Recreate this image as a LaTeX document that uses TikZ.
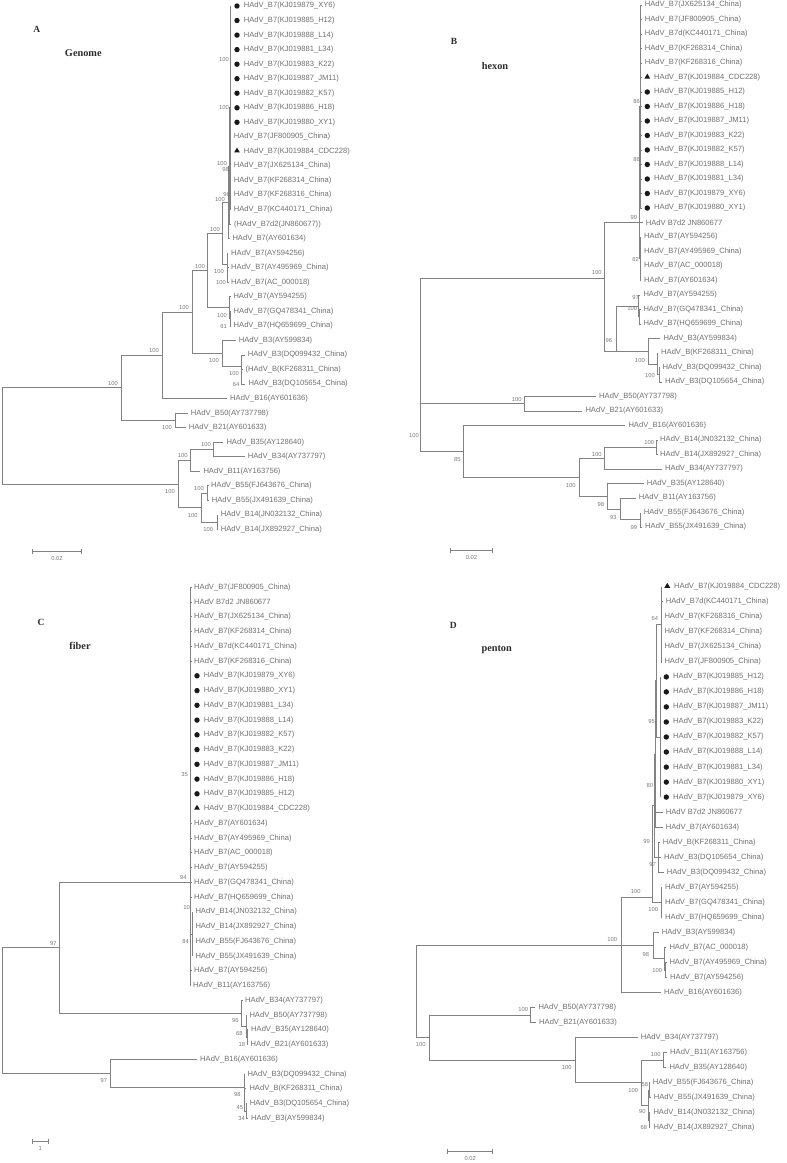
\documentclass[tikz,border=0pt]{standalone}
\usepackage{fontspec}
\setmainfont{Liberation Serif}
\newfontfamily\lsans{Liberation Sans}
\usetikzlibrary{shapes.geometric}
\definecolor{brc}{RGB}{130,130,130}
\definecolor{txc}{RGB}{112,112,112}
\definecolor{bsc}{RGB}{120,120,120}
\definecolor{mkc}{RGB}{25,25,25}
\definecolor{ttc}{RGB}{45,45,45}
\newcommand\hadv{HAdV\_}
\tikzset{
  br/.style={draw=brc, line width=0.8pt},
  lab/.style={anchor=west, inner sep=0pt, text=txc, font=\lsans\fontsize{7.6}{8}\selectfont},
  bs/.style={anchor=east, inner sep=0pt, text=bsc, font=\lsans\fontsize{5.8}{6}\selectfont},
  sc/.style={inner sep=0pt, text=bsc, font=\lsans\fontsize{5.8}{6}\selectfont},
  dot/.style={circle, fill=mkc, inner sep=0pt, minimum size=5.4pt},
  tri/.style={regular polygon, regular polygon sides=3, fill=mkc, inner sep=0pt, minimum size=6.6pt},
  ttl/.style={inner sep=0pt, text=ttc, font=\bfseries\fontsize{9.5}{10}\selectfont},
  ttl2/.style={inner sep=0pt, text=ttc, font=\bfseries\fontsize{10.3}{11}\selectfont},
}
\newcommand\lf[4]{\coordinate (#1) at (#2,#3); \node[lab] (#1t) at ([xshift=3pt]#1) {#4};}
\newcommand\lfc[4]{\coordinate (#1) at (#2,#3); \node[dot] (#1m) at ([xshift=6.3pt]#1) {}; \node[lab] (#1t) at ([xshift=13pt]#1) {#4};}
\newcommand\lft[4]{\coordinate (#1) at (#2,#3); \node[tri] (#1m) at ([xshift=6.3pt,yshift=0.6pt]#1) {}; \node[lab] (#1t) at ([xshift=13pt]#1) {#4};}
\newcommand\nd[3]{\coordinate (#1) at (#2,#3);}
\newcommand\eds[2]{\foreach \chd in {#2}{\draw[br] (#1) |- (\chd);}}
\newcommand\bv[4]{\node[bs] (#1) at (#2,#3) {#4};}
\newcommand\sbar[6]{\coordinate (#1l) at (#2,#4); \coordinate (#1r) at (#3,#4);
  \draw[br] (#1l) -- (#1r); \draw[br] ([yshift=-2.5pt]#1l) -- ([yshift=2.5pt]#1l); \draw[br] ([yshift=-2.5pt]#1r) -- ([yshift=2.5pt]#1r);
  \node[sc] (#1t) at (#5,#4+7) {#6};}
\begin{document}
\begin{tikzpicture}[x=1pt,y=-1pt]
\path[use as bounding box] (0,0) rectangle (787,1163);
% ================= PANEL A =================
\node[ttl] (pA) at (36.7,29.3) {A};
\node[ttl2] (tA) at (83.3,53.3) {Genome};
\lfc{a0}{230.7}{6.0}{\hadv B7(KJ019879\_XY6)}
\lfc{a1}{230.7}{20.5}{\hadv B7(KJ019885\_H12)}
\lfc{a2}{230.7}{35.1}{\hadv B7(KJ019888\_L14)}
\lfc{a3}{230.7}{49.6}{\hadv B7(KJ019881\_L34)}
\lfc{a4}{230.7}{64.2}{\hadv B7(KJ019883\_K22)}
\lfc{a5}{230.7}{78.7}{\hadv B7(KJ019887\_JM11)}
\lfc{a6}{230.7}{93.2}{\hadv B7(KJ019882\_K57)}
\lfc{a7}{230.7}{107.8}{\hadv B7(KJ019886\_H18)}
\lfc{a8}{230.7}{122.3}{\hadv B7(KJ019880\_XY1)}
\lf{a9}{230.7}{136.9}{\hadv B7(JF800905\_China)}
\lft{a10}{230.7}{151.4}{\hadv B7(KJ019884\_CDC228)}
\lf{a11}{230.7}{165.9}{\hadv B7(JX625134\_China)}
\lf{a12}{230.7}{180.5}{\hadv B7(KF268314\_China)}
\lf{a13}{230.7}{195.0}{\hadv B7(KF268316\_China)}
\lf{a14}{230.7}{209.6}{\hadv B7(KC440171\_China)}
\lf{a15}{231}{224.1}{(\hadv B7d2(JN860677))}
\lf{a16}{229.3}{238.6}{\hadv B7(AY601634)}
\lf{a17}{228}{253.2}{\hadv B7(AY594256)}
\lf{a18}{228}{267.7}{\hadv B7(AY495969\_China)}
\lf{a19}{228}{282.3}{\hadv B7(AC\_000018)}
\lf{a20}{230.3}{296.8}{\hadv B7(AY594255)}
\lf{a21}{230.5}{311.3}{\hadv B7(GQ478341\_China)}
\lf{a22}{230.5}{325.9}{\hadv B7(HQ659699\_China)}
\lf{a23}{235.7}{340.4}{\hadv B3(AY599834)}
\lf{a24}{244.7}{355.0}{\hadv B3(DQ099432\_China)}
\lf{a25}{242.3}{369.5}{(\hadv B(KF268311\_China)}
\lf{a26}{245.3}{384.0}{\hadv B3(DQ105654\_China)}
\lf{a27}{227}{398.6}{\hadv B16(AY601636)}
\lf{a28}{187.7}{413.1}{\hadv B50(AY737798)}
\lf{a29}{185.7}{427.7}{\hadv B21(AY601633)}
\lf{a30}{223.3}{442.2}{\hadv B35(AY128640)}
\lf{a31}{244.7}{456.7}{\hadv B34(AY737797)}
\lf{a32}{200.3}{471.3}{\hadv B11(AY163756)}
\lf{a33}{208}{485.8}{\hadv B55(FJ643676\_China)}
\lf{a34}{208.7}{500.4}{\hadv B55(JX491639\_China)}
\lf{a35}{217.7}{514.9}{\hadv B14(JN032132\_China)}
\lf{a36}{217.7}{529.4}{\hadv B14(JX892927\_China)}
\nd{aC2}{230.7}{107.8} \nd{aC1}{229.7}{166.0} \nd{aBC}{228.7}{202.3}
\nd{aN11b}{227.8}{275.0} \nd{aN11}{227.0}{264.1} \nd{aN9}{222.3}{233.2}
\nd{aN10b}{230.3}{318.6} \nd{aN10}{229.5}{307.7} \nd{aN6}{207.7}{270.5}
\nd{aN8b}{241.8}{376.8} \nd{aN8}{241}{365.9} \nd{aN7}{222.3}{353.2}
\nd{aN5}{192.7}{311.9} \nd{aN3}{162.3}{355.2} \nd{aN4}{175}{420.4}
\nd{aN1}{121.7}{387.8} \nd{aP}{213.7}{449.5} \nd{aQ}{190.3}{460.4}
\nd{aR}{207.7}{493.1} \nd{aS}{217.3}{522.2} \nd{aT}{201}{507.6}
\nd{aN2}{178}{484} \nd{aR0}{2.7}{435.9}
\eds{aC2}{a0,a1,a2,a3,a4,a5,a6,a7,a8,a9,a10,a11,a12,a13,a14}
\eds{aC1}{aC2,a15} \eds{aBC}{aC1,a16}
\eds{aN11b}{a18,a19} \eds{aN11}{a17,aN11b} \eds{aN9}{aBC,aN11}
\eds{aN10b}{a21,a22} \eds{aN10}{a20,aN10b} \eds{aN6}{aN9,aN10}
\eds{aN8b}{a25,a26} \eds{aN8}{a24,aN8b} \eds{aN7}{a23,aN8}
\eds{aN5}{aN6,aN7} \eds{aN3}{aN5,a27} \eds{aN4}{a28,a29} \eds{aN1}{aN3,aN4}
\eds{aP}{a30,a31} \eds{aQ}{aP,a32} \eds{aR}{a33,a34} \eds{aS}{a35,a36}
\eds{aT}{aR,aS} \eds{aN2}{aQ,aT} \eds{aR0}{aN1,aN2}
\bv{ba1}{118}{383.3}{100} \bv{ba2}{175}{491}{100} \bv{ba3}{159}{350.7}{100}
\bv{ba4}{172}{427.3}{100} \bv{ba5}{189}{307.3}{100} \bv{ba6}{205}{266}{100}
\bv{ba7}{220}{229.3}{100} \bv{ba8}{219}{360.7}{100} \bv{ba9}{239}{373.3}{100}
\bv{ba10}{239.5}{384.3}{64} \bv{ba11}{227}{315.3}{100} \bv{ba12}{227}{326.3}{61}
\bv{ba13}{224}{271}{100} \bv{ba14}{226}{282}{100} \bv{ba15}{225}{199}{100}
\bv{ba16}{230}{194.3}{96} \bv{ba17}{229}{59.3}{100} \bv{ba18}{229}{107.7}{100}
\bv{ba19}{227}{163.3}{100} \bv{ba20}{229}{169.3}{98}
\bv{ba21}{211}{444.3}{100} \bv{ba22}{187.7}{455.7}{100} \bv{ba23}{204}{488.3}{100}
\bv{ba24}{197.7}{515}{100} \bv{ba25}{213.3}{529.3}{100}
\sbar{sa}{32.7}{81}{551.7}{57}{0.02}
% ================= PANEL B =================
\node[ttl] (pB) at (454,41.7) {B};
\node[ttl2] (tB) at (495,65.7) {hexon};
\lf{b0}{641.7}{5.0}{\hadv B7(JX625134\_China)}
\lf{b1}{641.7}{19.5}{\hadv B7(JF800905\_China)}
\lf{b2}{641.7}{34.0}{\hadv B7d(KC440171\_China)}
\lf{b3}{641.7}{48.5}{\hadv B7(KF268314\_China)}
\lf{b4}{641.7}{63.0}{\hadv B7(KF268316\_China)}
\lft{b5}{641}{77.5}{\hadv B7(KJ019884\_CDC228)}
\lfc{b6}{641}{92.0}{\hadv B7(KJ019885\_H12)}
\lfc{b7}{641}{106.5}{\hadv B7(KJ019886\_H18)}
\lfc{b8}{641}{121.0}{\hadv B7(KJ019887\_JM11)}
\lfc{b9}{641}{135.5}{\hadv B7(KJ019883\_K22)}
\lfc{b10}{641}{150.0}{\hadv B7(KJ019882\_K57)}
\lfc{b11}{641}{164.5}{\hadv B7(KJ019888\_L14)}
\lfc{b12}{641}{179.0}{\hadv B7(KJ019881\_L34)}
\lfc{b13}{641}{193.5}{\hadv B7(KJ019879\_XY6)}
\lfc{b14}{641}{208.0}{\hadv B7(KJ019880\_XY1)}
\lf{b15}{642.7}{222.5}{HAdV B7d2 JN860677}
\lf{b16}{641}{237.0}{\hadv B7(AY594256)}
\lf{b17}{641}{251.5}{\hadv B7(AY495969\_China)}
\lf{b18}{641}{266.0}{\hadv B7(AC\_000018)}
\lf{b19}{641}{280.5}{\hadv B7(AY601634)}
\lf{b20}{640.3}{295.0}{\hadv B7(AY594255)}
\lf{b21}{640.3}{309.5}{\hadv B7(GQ478341\_China)}
\lf{b22}{640.3}{324.0}{\hadv B7(HQ659699\_China)}
\lf{b23}{660.3}{338.5}{\hadv B3(AY599834)}
\lf{b24}{658}{353.0}{\hadv B(KF268311\_China)}
\lf{b25}{659.3}{367.5}{\hadv B3(DQ099432\_China)}
\lf{b26}{662}{382.0}{\hadv B3(DQ105654\_China)}
\lf{b27}{596}{396.5}{\hadv B50(AY737798)}
\lf{b28}{582.3}{411.0}{\hadv B21(AY601633)}
\lf{b29}{625.3}{425.5}{\hadv B16(AY601636)}
\lf{b30}{657}{440.0}{\hadv B14(JN032132\_China)}
\lf{b31}{657}{454.5}{\hadv B14(JX892927\_China)}
\lf{b32}{662}{469.0}{\hadv B34(AY737797)}
\lf{b33}{643.7}{483.5}{\hadv B35(AY128640)}
\lf{b34}{635.7}{498.0}{\hadv B11(AY163756)}
\lf{b35}{640.7}{512.5}{\hadv B55(FJ643676\_China)}
\lf{b36}{642}{527.0}{\hadv B55(JX491639\_China)}
\nd{bT}{640.7}{106.5} \nd{bU}{640.2}{258.8} \nd{bB1}{639.5}{222.5}
\nd{bA2}{639.7}{316.8} \nd{bA}{638.7}{305.9} \nd{bCj}{659}{374.8}
\nd{bCi}{657.3}{363.9} \nd{bC}{648.3}{351.2} \nd{bB2}{616}{351.2}
\nd{bM}{604}{278.3} \nd{b50n}{524.3}{403.8} \nd{bN14}{656.7}{447.3}
\nd{bN100b}{604}{458.1} \nd{bN99}{640.7}{519.8} \nd{bN93}{620.7}{508.9}
\nd{bN98}{607.7}{496.2} \nd{bN100a}{579}{477.2} \nd{bN85}{463.3}{451.3}
\nd{bR}{420}{365}
\eds{bT}{b0,b1,b2,b3,b4,b5,b6,b7,b8,b9,b10,b11,b12,b13,b14}
\eds{bU}{b16,b17,b18,b19} \eds{bB1}{bT,b15,bU}
\eds{bA2}{b21,b22} \eds{bA}{b20,bA2}
\eds{bCj}{b25,b26} \eds{bCi}{b24,bCj} \eds{bC}{b23,bCi}
\eds{bB2}{bA,bC} \eds{bM}{bB1,bB2} \eds{b50n}{b27,b28}
\eds{bN14}{b30,b31} \eds{bN100b}{bN14,b32} \eds{bN99}{b35,b36}
\eds{bN93}{b34,bN99} \eds{bN98}{b33,bN93} \eds{bN100a}{bN100b,bN98}
\eds{bN85}{b29,bN100a} \eds{bR}{bM,b50n,bN85}
\bv{bb1}{640}{101}{86} \bv{bb2}{640}{159.3}{86} \bv{bb3}{637.3}{217.7}{99}
\bv{bb4}{639}{259}{62} \bv{bb5}{601.7}{272.7}{100} \bv{bb6}{612.3}{340.7}{96}
\bv{bb7}{639}{297.3}{97} \bv{bb8}{637.3}{308.3}{100} \bv{bb9}{645}{360.7}{100}
\bv{bb10}{655}{375}{100} \bv{bb11}{419}{435}{100} \bv{bb12}{521.7}{399.3}{100}
\bv{bb13}{460.7}{459.3}{85} \bv{bb14}{575.7}{485}{100} \bv{bb15}{601.7}{454}{100}
\bv{bb16}{604.3}{504}{98} \bv{bb17}{654.3}{442.7}{100} \bv{bb18}{616.7}{517.3}{93}
\bv{bb19}{637.3}{527.3}{99}
\sbar{sb}{450}{492.7}{550.7}{471.4}{0.02}
% ================= PANEL C =================
\node[ttl] (pC) at (41,622.3) {C};
\node[ttl2] (tC) at (80,645.7) {fiber};
\lf{c0}{191}{587.3}{\hadv B7(JF800905\_China)}
\lf{c1}{191}{602.1}{HAdV B7d2 JN860677}
\lf{c2}{191}{616.8}{\hadv B7(JX625134\_China)}
\lf{c3}{191}{631.6}{\hadv B7(KF268314\_China)}
\lf{c4}{191}{646.3}{\hadv B7d(KC440171\_China)}
\lf{c5}{191}{661.1}{\hadv B7(KF268316\_China)}
\lfc{c6}{190.7}{675.8}{\hadv B7(KJ019879\_XY6)}
\lfc{c7}{190.7}{690.6}{\hadv B7(KJ019880\_XY1)}
\lfc{c8}{190.7}{705.3}{\hadv B7(KJ019881\_L34)}
\lfc{c9}{190.7}{720.1}{\hadv B7(KJ019888\_L14)}
\lfc{c10}{190.7}{734.8}{\hadv B7(KJ019882\_K57)}
\lfc{c11}{190.7}{749.6}{\hadv B7(KJ019883\_K22)}
\lfc{c12}{190.7}{764.3}{\hadv B7(KJ019887\_JM11)}
\lfc{c13}{190.7}{779.1}{\hadv B7(KJ019886\_H18)}
\lfc{c14}{190.7}{793.8}{\hadv B7(KJ019885\_H12)}
\lft{c15}{190.7}{808.6}{\hadv B7(KJ019884\_CDC228)}
\lf{c16}{191}{823.3}{\hadv B7(AY601634)}
\lf{c17}{191}{838.1}{\hadv B7(AY495969\_China)}
\lf{c18}{191}{852.8}{\hadv B7(AC\_000018)}
\lf{c19}{191}{867.6}{\hadv B7(AY594255)}
\lf{c20}{191}{882.3}{\hadv B7(GQ478341\_China)}
\lf{c21}{191}{897.1}{\hadv B7(HQ659699\_China)}
\lf{c22}{192.3}{911.8}{\hadv B14(JN032132\_China)}
\lf{c23}{192.3}{926.6}{\hadv B14(JX892927\_China)}
\lf{c24}{192.3}{941.3}{\hadv B55(FJ643676\_China)}
\lf{c25}{192.3}{956.1}{\hadv B55(JX491639\_China)}
\lf{c26}{191}{970.8}{\hadv B7(AY594256)}
\lf{c27}{190}{985.6}{\hadv B11(AY163756)}
\lf{c28}{242}{1000.3}{\hadv B34(AY737797)}
\lf{c29}{246.3}{1015.1}{\hadv B50(AY737798)}
\lf{c30}{248}{1029.8}{\hadv B35(AY128640)}
\lf{c31}{247.5}{1044.6}{\hadv B21(AY601633)}
\lf{c32}{197}{1059.3}{\hadv B16(AY601636)}
\lf{c33}{244.3}{1074.1}{\hadv B3(DQ099432\_China)}
\lf{c34}{246.3}{1088.8}{\hadv B(KF268311\_China)}
\lf{c35}{246.7}{1103.6}{\hadv B3(DQ105654\_China)}
\lf{c36}{248}{1118.3}{\hadv B3(AY599834)}
\nd{cQ}{192.3}{934} \nd{cT}{190.7}{779} \nd{c94}{190}{882.3}
\nd{c18n}{247.3}{1037.2} \nd{c68}{246}{1026.2} \nd{c96}{241.7}{1013.3}
\nd{c97}{59.3}{947.8} \nd{c34n}{246}{1111} \nd{c45}{244.8}{1099.9}
\nd{c98}{244}{1087} \nd{c97b}{110}{1073.2} \nd{cR}{2.7}{1010.5}
\eds{cQ}{c22,c23,c24,c25}
\eds{cT}{c0,c1,c2,c3,c4,c5,c6,c7,c8,c9,c10,c11,c12,c13,c14,c15,c16,c17,c18,c19,c20,c21,cQ,c26}
\eds{c94}{cT,c27} \eds{c18n}{c30,c31} \eds{c68}{c29,c18n} \eds{c96}{c28,c68}
\eds{c97}{c94,c96} \eds{c34n}{c35,c36} \eds{c45}{c34,c34n} \eds{c98}{c33,c45}
\eds{c97b}{c32,c98} \eds{cR}{c97,c97b}
\bv{bc1}{188}{774}{35} \bv{bc2}{186.7}{877.3}{94} \bv{bc3}{190}{907.7}{10}
\bv{bc4}{189}{941}{84} \bv{bc5}{56.7}{943.3}{97} \bv{bc6}{238.7}{1020.7}{96}
\bv{bc7}{242.7}{1033.7}{68} \bv{bc8}{245.3}{1044.3}{18} \bv{bc9}{107.3}{1080.7}{97}
\bv{bc10}{240.7}{1094}{98} \bv{bc11}{243.3}{1107.3}{45} \bv{bc12}{245}{1118.3}{34}
\sbar{scb}{32.3}{48.3}{1141.7}{40.3}{1}
% ================= PANEL D =================
\node[ttl] (pD) at (453.3,625.7) {D};
\node[ttl2] (tD) at (496.7,650) {penton};
\lft{d0}{661}{586.7}{\hadv B7(KJ019884\_CDC228)}
\lf{d1}{662.7}{601.7}{\hadv B7d(KC440171\_China)}
\lf{d2}{661.3}{616.8}{\hadv B7(KF268316\_China)}
\lf{d3}{661.3}{631.8}{\hadv B7(KF268314\_China)}
\lf{d4}{661.3}{646.8}{\hadv B7(JX625134\_China)}
\lf{d5}{661.3}{661.9}{\hadv B7(JF800905\_China)}
\lfc{d6}{660}{676.9}{\hadv B7(KJ019885\_H12)}
\lfc{d7}{660}{691.9}{\hadv B7(KJ019886\_H18)}
\lfc{d8}{660}{706.9}{\hadv B7(KJ019887\_JM11)}
\lfc{d9}{660}{722.0}{\hadv B7(KJ019883\_K22)}
\lfc{d10}{660}{737.0}{\hadv B7(KJ019882\_K57)}
\lfc{d11}{660}{752.0}{\hadv B7(KJ019888\_L14)}
\lfc{d12}{660}{767.1}{\hadv B7(KJ019881\_L34)}
\lfc{d13}{660}{782.1}{\hadv B7(KJ019880\_XY1)}
\lfc{d14}{660}{797.1}{\hadv B7(KJ019879\_XY6)}
\lf{d15}{662.7}{812.1}{HAdV B7d2 JN860677}
\lf{d16}{662.7}{827.2}{\hadv B7(AY601634)}
\lf{d17}{659.7}{842.2}{\hadv B(KF268311\_China)}
\lf{d18}{661}{857.2}{\hadv B3(DQ105654\_China)}
\lf{d19}{663.7}{872.3}{\hadv B3(DQ099432\_China)}
\lf{d20}{662}{887.3}{\hadv B7(AY594255)}
\lf{d21}{662}{902.3}{\hadv B7(GQ478341\_China)}
\lf{d22}{662}{917.4}{\hadv B7(HQ659699\_China)}
\lf{d23}{658.7}{932.4}{\hadv B3(AY599834)}
\lf{d24}{666.3}{947.4}{\hadv B7(AC\_000018)}
\lf{d25}{666.3}{962.5}{\hadv B7(AY495969\_China)}
\lf{d26}{667}{977.5}{\hadv B7(AY594256)}
\lf{d27}{661}{992.5}{\hadv B16(AY601636)}
\lf{d28}{535.3}{1007.5}{\hadv B50(AY737798)}
\lf{d29}{536}{1022.6}{\hadv B21(AY601633)}
\lf{d30}{637.7}{1037.6}{\hadv B34(AY737797)}
\lf{d31}{667}{1052.6}{\hadv B11(AY163756)}
\lf{d32}{666.3}{1067.7}{\hadv B35(AY128640)}
\lf{d33}{649.7}{1082.7}{\hadv B55(FJ643676\_China)}
\lf{d34}{650.7}{1097.7}{\hadv B55(JX491639\_China)}
\lf{d35}{650.3}{1112.8}{\hadv B14(JN032132\_China)}
\lf{d36}{650.3}{1127.8}{\hadv B14(JX892927\_China)}
\nd{d64n}{661}{624.3} \nd{dM}{660}{737} \nd{d95}{656.5}{680.7}
\nd{d80}{655.5}{754} \nd{d97}{658.3}{857.2} \nd{d99}{654.3}{805.6}
\nd{dA}{661.3}{902.3} \nd{dX}{652.8}{897.3} \nd{dn2}{665.7}{970}
\nd{dn1}{664}{958.7} \nd{d98}{653.3}{945.5} \nd{d100b}{621.7}{945}
\nd{d50n}{530.7}{1015} \nd{d100f}{663.3}{1060.1} \nd{d58}{649.3}{1090.2}
\nd{d68}{649.3}{1120.3} \nd{d90}{648}{1105.3} \nd{d100e}{641}{1082.7}
\nd{d100d}{575}{1060.2} \nd{d100c}{429.3}{1037.6} \nd{dR}{416.7}{991}
\eds{d64n}{d0,d1,d2,d3,d4,d5} \eds{dM}{d6,d7,d8,d9,d10,d11,d12,d13,d14}
\eds{d95}{d64n,dM} \eds{d80}{d95,d15,d16} \eds{d97}{d17,d18,d19}
\eds{d99}{d80,d97} \eds{dA}{d20,d21,d22} \eds{dX}{d99,dA}
\eds{dn2}{d25,d26} \eds{dn1}{d24,dn2} \eds{d98}{d23,dn1}
\eds{d100b}{dX,d98,d27} \eds{d50n}{d28,d29} \eds{d100f}{d31,d32}
\eds{d58}{d33,d34} \eds{d68}{d35,d36} \eds{d90}{d58,d68}
\eds{d100e}{d100f,d90} \eds{d100d}{d30,d100e} \eds{d100c}{d50n,d100d}
\eds{dR}{d100b,d100c}
\bv{bd1}{658.3}{618.3}{64} \bv{bd2}{655}{721}{95} \bv{bd3}{653.3}{785.7}{80}
\bv{bd4}{650}{841.7}{99} \bv{bd5}{656}{864}{97} \bv{bd6}{658.3}{909.3}{100}
\bv{bd7}{640.7}{891.7}{100} \bv{bd8}{617.3}{939.3}{100} \bv{bd9}{649.3}{954.3}{98}
\bv{bd10}{662.3}{970}{100} \bv{bd11}{425.7}{1044.3}{100} \bv{bd12}{528.3}{1009}{100}
\bv{bd13}{571.7}{1067.3}{100} \bv{bd14}{638.3}{1090}{100} \bv{bd15}{660.7}{1054.3}{100}
\bv{bd16}{648.3}{1084.3}{58} \bv{bd17}{645.7}{1111.7}{90} \bv{bd18}{647.3}{1127.7}{68}
\sbar{sd}{447.7}{492.7}{1151}{470.2}{0.02}
\end{tikzpicture}
\end{document}
